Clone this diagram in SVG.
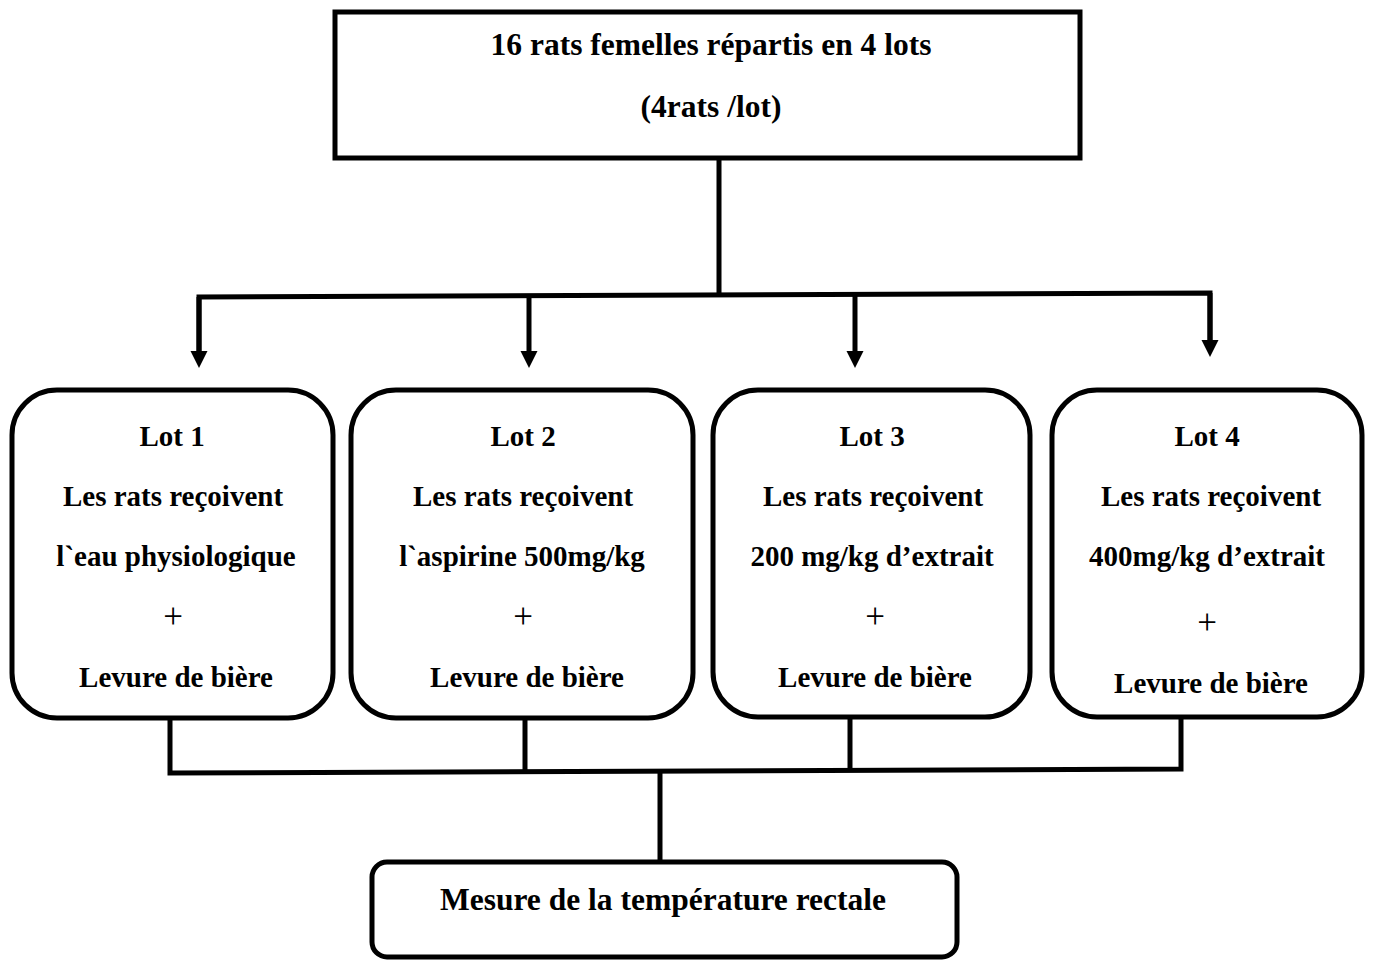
<svg xmlns="http://www.w3.org/2000/svg" width="1375" height="961" viewBox="0 0 1375 961">
<style>
.box{fill:#fff;stroke:#000;stroke-width:5}
.ln{fill:none;stroke:#000;stroke-width:5}
.t{font-family:"Liberation Serif","Times New Roman",serif;font-weight:bold;fill:#000;text-anchor:middle}
.big{font-size:31.5px}
.lot{font-size:29px}
.plus{font-weight:normal;font-size:35px}
</style>
<defs>
<marker id="ah" markerWidth="4" markerHeight="4" refX="1.6" refY="2" orient="auto" markerUnits="strokeWidth" viewBox="0 0 4 4">
<path d="M0,0.3 L3.4,2 L0,3.7 Z" fill="#000"/>
</marker>
</defs>
<g id="connectors">
<path class="ln" d="M719,158 V295"/>
<path class="ln" d="M199,352 V297 L1210,293 V340"/>
<path class="ln" d="M199,297 V359" marker-end="url(#ah)"/>
<path class="ln" d="M529,296 V359" marker-end="url(#ah)"/>
<path class="ln" d="M855,295 V359" marker-end="url(#ah)"/>
<path class="ln" d="M1210,293 V348" marker-end="url(#ah)"/>
<path class="ln" d="M170,718 V773 L1181,769 V718"/>
<path class="ln" d="M525,718 V772"/>
<path class="ln" d="M850,718 V771"/>
<path class="ln" d="M660,771 V862"/>
</g>
<g id="top">
<rect class="box" x="335" y="12" width="745" height="146"/>
<text class="t big" x="711" y="55">16 rats femelles répartis en 4 lots</text>
<text class="t big" x="711" y="117">(4rats /lot)</text>
</g>
<g id="lot1">
<rect class="box" x="12" y="390" width="321" height="328" rx="45"/>
<text class="t lot" x="172" y="446">Lot 1</text>
<text class="t lot" x="173" y="506">Les rats reçoivent</text>
<text class="t lot" x="176" y="566">l`eau physiologique</text>
<text class="t plus" x="173" y="628">+</text>
<text class="t lot" x="176" y="687">Levure de bière</text>
</g>
<g id="lot2">
<rect class="box" x="351" y="390" width="342" height="328" rx="45"/>
<text class="t lot" x="523" y="446">Lot 2</text>
<text class="t lot" x="523" y="506">Les rats reçoivent</text>
<text class="t lot" x="522" y="566">l`aspirine 500mg/kg</text>
<text class="t plus" x="523" y="628">+</text>
<text class="t lot" x="527" y="687">Levure de bière</text>
</g>
<g id="lot3">
<rect class="box" x="713" y="390" width="317" height="327" rx="45"/>
<text class="t lot" x="872" y="446">Lot 3</text>
<text class="t lot" x="873" y="506">Les rats reçoivent</text>
<text class="t lot" x="872" y="566">200 mg/kg d’extrait</text>
<text class="t plus" x="875" y="628">+</text>
<text class="t lot" x="875" y="687">Levure de bière</text>
</g>
<g id="lot4">
<rect class="box" x="1052" y="390" width="310" height="327" rx="45"/>
<text class="t lot" x="1207" y="446">Lot 4</text>
<text class="t lot" x="1211" y="506">Les rats reçoivent</text>
<text class="t lot" x="1207" y="566">400mg/kg d’extrait</text>
<text class="t plus" x="1207" y="634">+</text>
<text class="t lot" x="1211" y="693">Levure de bière</text>
</g>
<g id="mesure">
<rect class="box" x="372" y="862" width="585" height="95" rx="15"/>
<text class="t big" x="663" y="910">Mesure de la température rectale</text>
</g>
</svg>
